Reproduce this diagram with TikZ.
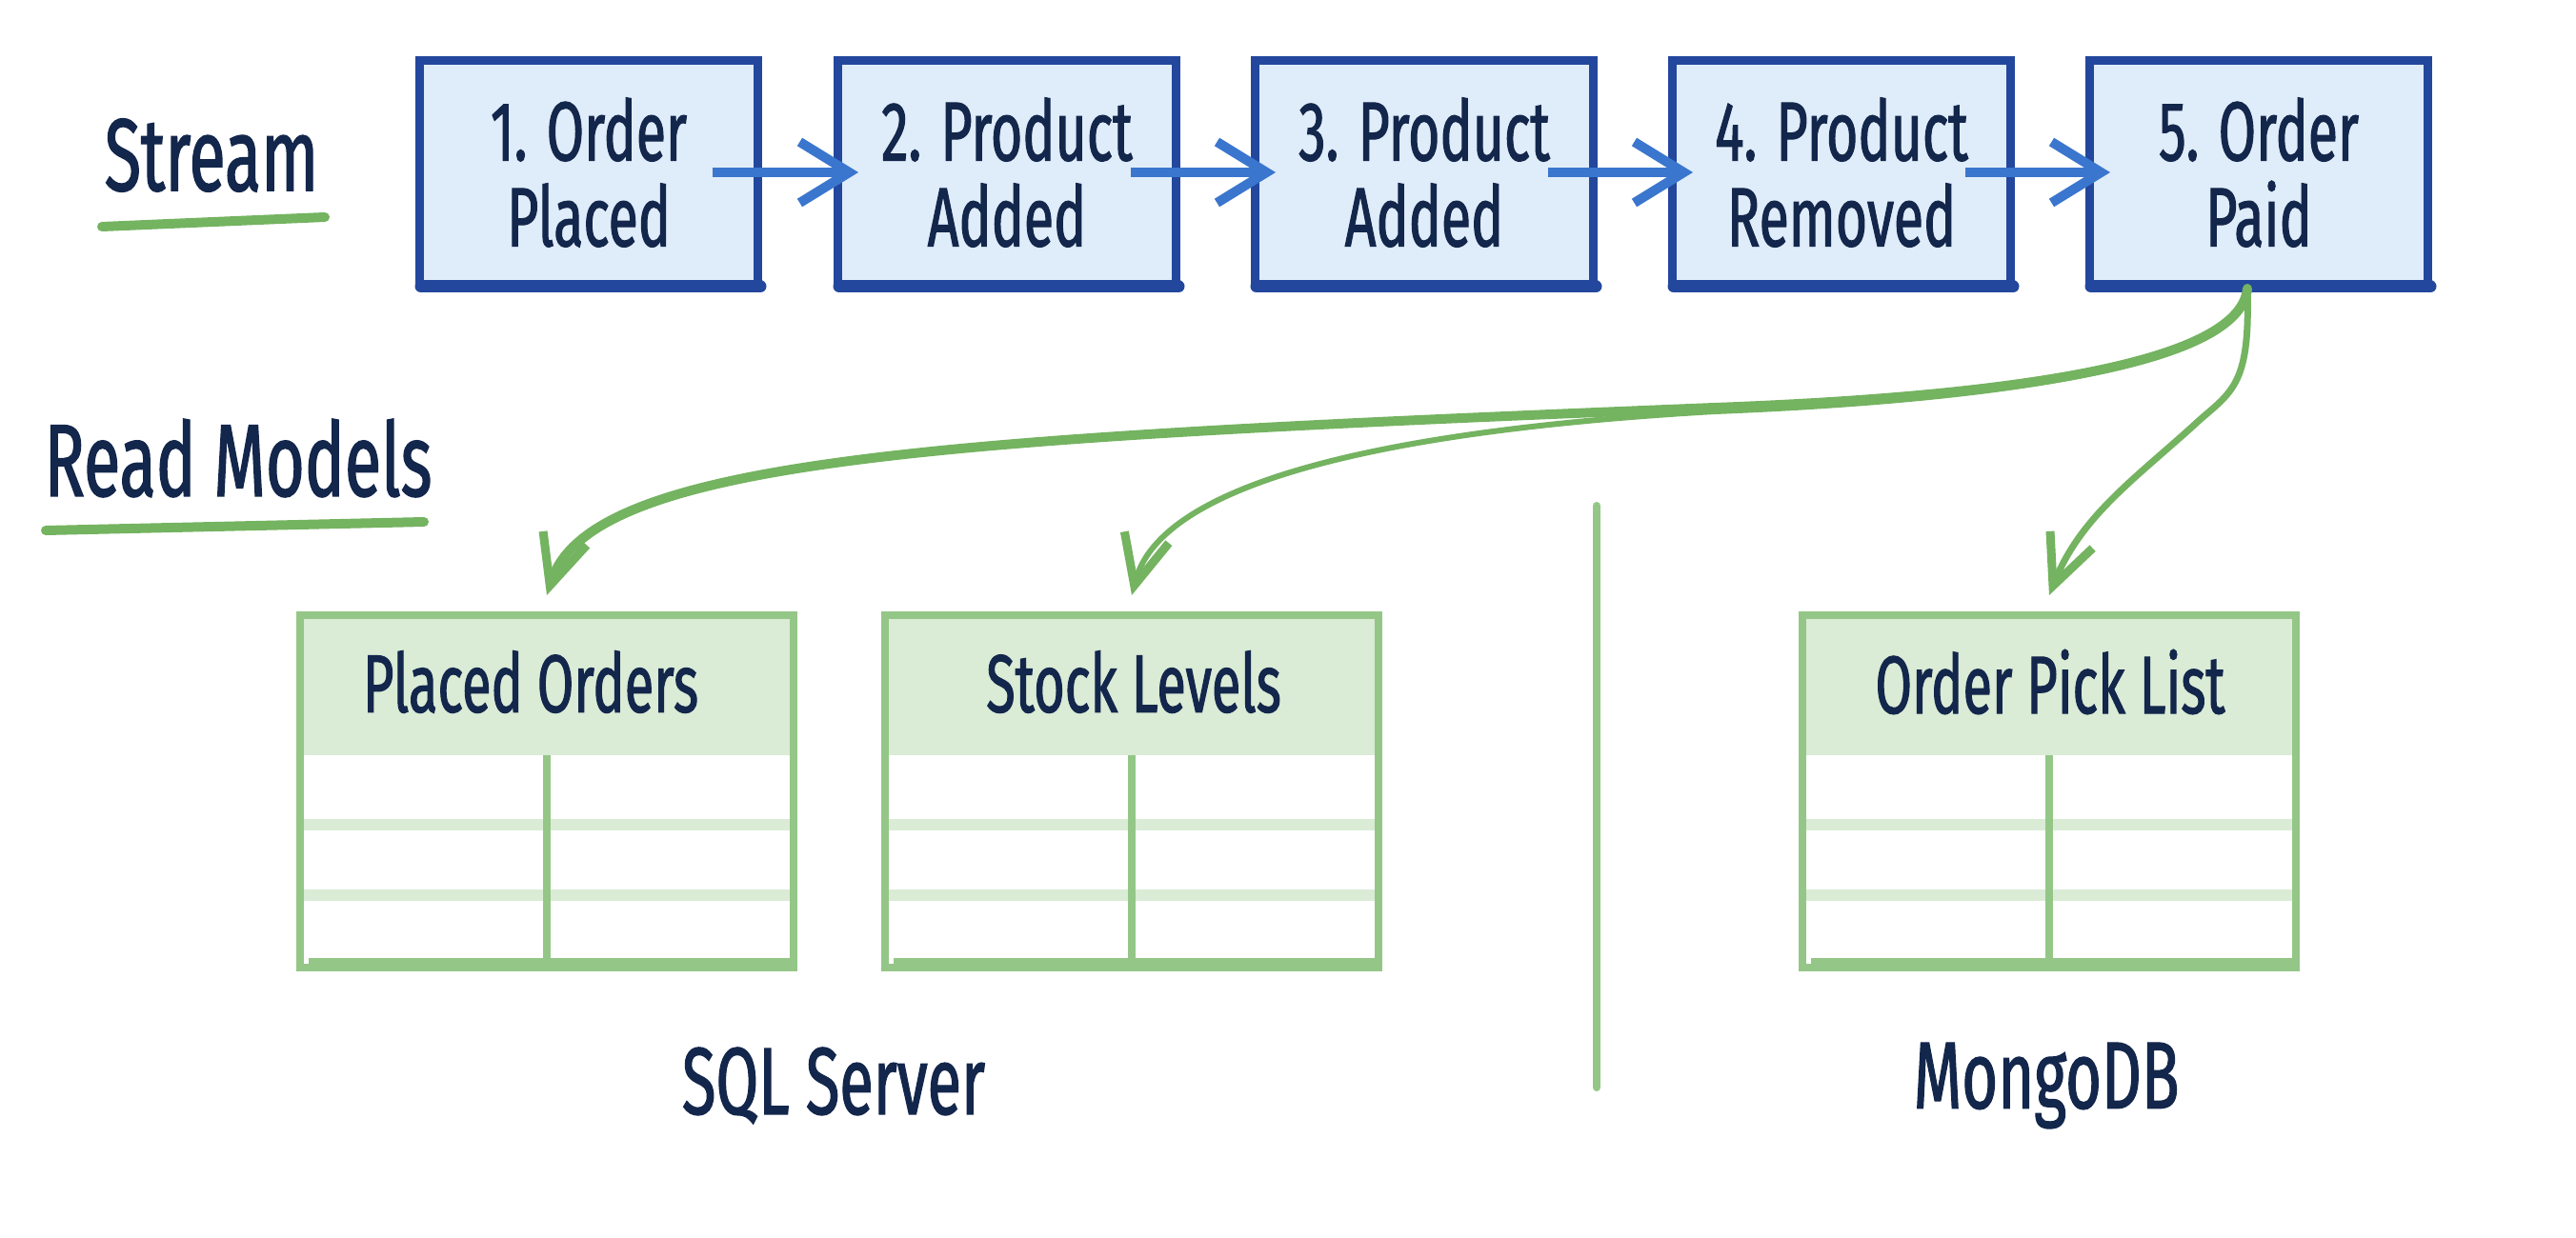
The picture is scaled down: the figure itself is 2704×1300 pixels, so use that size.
\documentclass[tikz,border=0pt]{standalone}
\usepackage{fontspec}
\setmainfont{Fira Sans}[FakeStretch=0.65,FakeBold=1.2]
\usetikzlibrary{arrows.meta,calc}
\definecolor{ink}{RGB}{19,38,75}
\definecolor{boxfill}{RGB}{223,236,249}
\definecolor{boxline}{RGB}{34,71,157}
\definecolor{flow}{RGB}{58,118,206}
\definecolor{feed}{RGB}{116,179,96}
\definecolor{tblline}{RGB}{148,199,135}
\definecolor{tblfill}{RGB}{218,235,214}
\begin{document}
\begin{tikzpicture}[x=0.5pt,y=-0.5pt,
  evbox/.style={draw=boxline, fill=boxfill, line width=4.5pt, minimum width=177.5pt, minimum height=117.5pt, inner sep=0pt, align=center, text=ink, font=\fontsize{44}{45}\selectfont},
  flowarrow/.style={draw=flow, line width=5pt, -{Straight Barb[length=26pt,width=32pt]}},
  feedarrow/.style={draw=feed, line width=3.5pt, line cap=round, -{Straight Barb[length=26pt,width=24pt,line width=4.5pt]}},
  dbtable/.style={draw=tblline, line width=4pt, minimum width=259pt, minimum height=185pt, inner sep=0pt},
  tbltitle/.style={text=ink, inner sep=0pt, font=\fontsize{43}{46}\selectfont},
  heading/.style={text=ink, inner sep=0pt, font=\fontsize{54}{58}\selectfont},
  dbname/.style={text=ink, inner sep=0pt, font=\fontsize{50}{54}\selectfont},
  underline/.style={draw=feed, line width=5pt, line cap=round}
]
\fill[white] (0,0) rectangle (2704,1300);
\useasboundingbox (0,0) rectangle (2704,1300);

% headings
\node[heading] (stream) at (222,163) {Stream};
\draw[underline] (107,238) -- (341,228);
\node[heading] (readmodels) at (250,481) {Read Models};
\draw[underline] (48,557) -- (445,548);

% event stream
\node[evbox] (b1) at (618,181) {1. Order\\Placed};
\node[evbox] (b2) at (1057,181) {2. Product\\Added};
\node[evbox] (b3) at (1495,181) {3. Product\\Added};
\node[evbox] (b4) at (1933,181) {4. Product\\Removed};
\node[evbox] (b5) at (2371,181) {5. Order\\Paid};
\foreach \b in {b1,b2,b3,b4,b5}
  \draw[draw=boxline, line width=6.5pt, line cap=round] ([xshift=3pt,yshift=1pt]\b.south west) -- ([xshift=-1pt,yshift=1pt]\b.south east);

\draw[flowarrow] ([xshift=-26pt]b1.east) -- ([xshift=13pt]b2.west);
\draw[flowarrow] ([xshift=-26pt]b2.east) -- ([xshift=13pt]b3.west);
\draw[flowarrow] ([xshift=-26pt]b3.east) -- ([xshift=13pt]b4.west);
\draw[flowarrow] ([xshift=-26pt]b4.east) -- ([xshift=13pt]b5.west);

% tables
\foreach \cx/\nm/\ttl/\tx in {574/t1/Placed Orders/557, 1188/t2/Stock Levels/1190, 2151/t3/Order Pick List/2152} {
  \fill[tblfill] (\cx-259,646) rectangle (\cx+259,793);
  \fill[tblfill] (\cx-259,860) rectangle (\cx+259,872);
  \fill[tblfill] (\cx-259,934) rectangle (\cx+259,946);
  \node[dbtable] (\nm) at (\cx,831) {};
  \draw[draw=tblline, line width=4pt] (\cx,793) -- (\cx,1016);
  \draw[draw=tblline, line width=7pt] (\cx-250,1013) -- (\cx+259,1013);
  \node[tbltitle] (\nm-title) at (\tx,716) {\ttl};
}

% divider
\draw[draw=tblline, line width=4pt, line cap=round] (1676,531) -- (1676,1142);

\node[dbname] (sql) at (875,1140) {SQL Server};
\node[dbname] (mongo) at (2148,1140) {MongoDB};

% projections
\draw[feedarrow, line width=5pt] ([xshift=-6pt]b5.south) .. controls (2352,375) and (2150,415) .. (1800,428)
   .. controls (1000,460) and (620,480) .. ([yshift=8.5pt]t1.north);
\draw[feedarrow, line width=3pt] ([xshift=-6pt]b5.south) .. controls (2352,375) and (2150,418) .. (1800,432)
   .. controls (1400,455) and (1215,520) .. ([yshift=8.5pt]t2.north);
\draw[feedarrow] ([xshift=-6pt]b5.south) .. controls (2362,400) and (2345,410) .. (2310,440)
   .. controls (2245,500) and (2185,540) .. ([yshift=8.5pt]t3.north);
\end{tikzpicture}
\end{document}
